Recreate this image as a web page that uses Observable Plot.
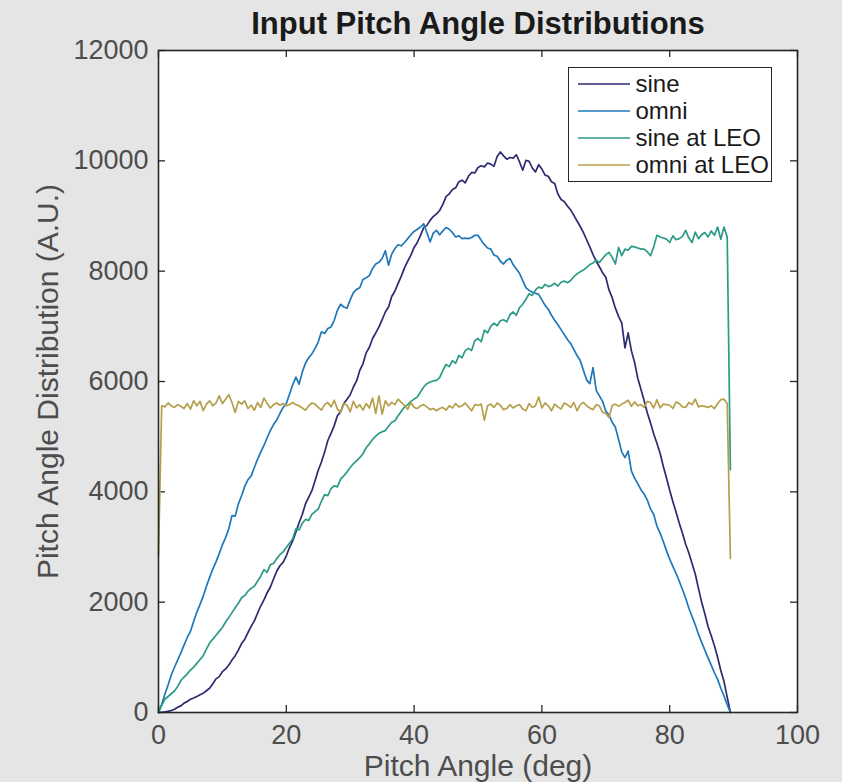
<!DOCTYPE html>
<html>
<head>
<meta charset="utf-8">
<script src="https://cdn.jsdelivr.net/npm/d3@7"></script>
<script src="https://cdn.jsdelivr.net/npm/@observablehq/plot@0.6"></script>
<style>
  html, body { margin: 0; padding: 0; background: #e5e5e5; }
  #chart { position: relative; width: 842px; height: 782px; font-family: "Liberation Sans", Arial, Helvetica, sans-serif; }
  .legend { position: absolute; left: 568px; top: 67px; width: 204px; height: 115px; box-sizing: border-box;
            border: 1.5px solid #262626; background: #fff; padding-top: 2px; font-size: 24px; color: #1a1a1a; }
  .legend .row { display: flex; align-items: center; height: 27px; }
  .legend svg { margin-left: 8.5px; margin-right: 6px; }
</style>
</head>
<body>
<div id="chart"></div>
<script>
// Pitch angle grid: half-degree bins from 0 to 89.5 deg
const angleStep = 0.5;

const seriesNames = ["sine", "omni", "sine at LEO", "omni at LEO"];
const seriesColors = ["#2d2a70", "#1f78b9", "#2a9b86", "#b49f4b"];

const sine = [
  0, 5, 10, 22, 35, 60, 95, 120, 170, 200,
  240, 262, 290, 320, 350, 395, 440, 520, 610, 650,
  740, 790, 860, 950, 1030, 1130, 1250, 1330, 1450, 1560,
  1660, 1800, 1930, 2040, 2170, 2270, 2420, 2560, 2660, 2720,
  2840, 2990, 3110, 3270, 3440, 3590, 3780, 3900, 4020, 4200,
  4390, 4540, 4720, 4930, 5060, 5200, 5380, 5450, 5600, 5680,
  5760, 5900, 6010, 6200, 6320, 6520, 6620, 6780, 6880, 6990,
  7120, 7260, 7350, 7540, 7640, 7780, 7910, 8060, 8180, 8290,
  8430, 8520, 8650, 8790, 8830, 8920, 8990, 9040, 9100, 9210,
  9350, 9400, 9480, 9510, 9620, 9650, 9600, 9720, 9790, 9780,
  9880, 9910, 9890, 9960, 9940, 9900, 10080, 10160, 10090, 10030,
  10060, 10050, 10110, 9980, 9830, 10010, 9990, 9870, 9800, 9930,
  9850, 9740, 9720, 9620, 9590, 9400, 9300, 9260, 9180, 9110,
  9010, 8910, 8810, 8700, 8570, 8440, 8300, 8180, 8080, 7970,
  7890, 7660, 7520, 7330, 7180, 7060, 6610, 6880, 6560, 6350,
  6060, 5860, 5650, 5430, 5250, 5050, 4880, 4700, 4460, 4250,
  4030, 3820, 3630, 3430, 3250, 3050, 2890, 2700, 2510, 2250,
  2000, 1790, 1560, 1390, 1210, 1000, 760, 560, 280, 0
];

const omni = [
  0, 150, 330, 500, 680, 820, 950, 1080, 1220, 1360,
  1470, 1650, 1820, 1960, 2110, 2290, 2450, 2600, 2730, 2880,
  3040, 3170, 3330, 3570, 3560, 3780, 3930, 4100, 4220, 4290,
  4440, 4590, 4720, 4840, 4980, 5110, 5220, 5300, 5420, 5530,
  5600, 5770, 5940, 6080, 5950, 6170, 6330, 6430, 6500, 6600,
  6720, 6900, 6870, 6960, 6990, 7110, 7290, 7400, 7350, 7330,
  7480, 7610, 7670, 7700, 7850, 7880, 7920, 8050, 8130, 8160,
  8230, 8370, 8110, 8310, 8410, 8480, 8460, 8520, 8590, 8660,
  8720, 8760, 8800, 8860, 8700, 8530, 8690, 8740, 8660, 8730,
  8790, 8760, 8700, 8620, 8640, 8590, 8600, 8590, 8610, 8650,
  8650, 8560, 8480, 8420, 8400, 8290, 8270, 8180, 8130, 8200,
  8230, 8120, 8040, 7960, 7830, 7700, 7650, 7620, 7600, 7580,
  7480, 7380, 7310, 7200, 7110, 7030, 6940, 6850, 6760, 6690,
  6580, 6470, 6380, 6200, 6030, 5960, 6250, 5840, 5740, 5640,
  5460, 5390, 5260, 5170, 4950, 4720, 4620, 4740, 4380, 4250,
  4150, 4040, 3960, 3850, 3690, 3590, 3380, 3250, 3100, 2930,
  2780, 2650, 2520, 2380, 2230, 2070, 1890, 1740, 1590, 1420,
  1270, 1130, 990, 860, 720, 600, 440, 300, 140, 0
];

const sineLEO = [
  0, 130, 240, 290, 340, 390, 470, 580, 640, 700,
  770, 820, 890, 960, 1030, 1150, 1260, 1330, 1400, 1470,
  1540, 1640, 1720, 1810, 1900, 1980, 2080, 2120, 2200, 2250,
  2290, 2380, 2470, 2590, 2540, 2680, 2700, 2790, 2860, 2910,
  2990, 3070, 3150, 3330, 3310, 3430, 3500, 3480, 3590, 3640,
  3690, 3830, 3950, 3930, 4060, 4110, 4090, 4230, 4290, 4360,
  4440, 4510, 4560, 4620, 4690, 4800, 4870, 4950, 5010, 5060,
  5090, 5110, 5190, 5260, 5290, 5380, 5460, 5540, 5580, 5640,
  5680, 5720, 5810, 5900, 5960, 5990, 6010, 6020, 6070, 6200,
  6310, 6270, 6380, 6330, 6470, 6430, 6560, 6600, 6560, 6740,
  6780, 6720, 6930, 6880, 7000, 7060, 7010, 7100, 7120, 7080,
  7210, 7260, 7200, 7340, 7400, 7490, 7590, 7560, 7660, 7710,
  7690, 7760, 7720, 7740, 7780, 7730, 7800, 7820, 7790, 7830,
  7900, 7950, 7990, 8020, 8070, 8120, 8150, 8200, 8160, 8230,
  8300, 8340, 8250, 8130, 8430, 8280, 8400, 8380, 8450, 8440,
  8420, 8400, 8400, 8350, 8280, 8440, 8650, 8620, 8600, 8580,
  8520, 8640, 8570, 8590, 8630, 8740, 8600, 8520, 8710, 8590,
  8660, 8700, 8620, 8730, 8650, 8800, 8580, 8800, 8620, 4400
];

const omniLEO = [
  2850, 5560, 5540, 5610, 5560, 5530, 5580, 5550, 5510, 5600,
  5500, 5650, 5560, 5640, 5470, 5590, 5650, 5560, 5610, 5740,
  5600, 5680, 5760, 5620, 5440, 5640, 5590, 5650, 5510, 5570,
  5480, 5620, 5530, 5700, 5600, 5520, 5580, 5610, 5570, 5600,
  5560, 5580, 5620, 5580, 5560, 5520, 5480, 5560, 5610, 5590,
  5530, 5480, 5580, 5620, 5540, 5660, 5500, 5440, 5600, 5570,
  5450, 5640, 5520, 5580, 5480, 5600, 5520, 5700, 5420, 5740,
  5410, 5650, 5560, 5620, 5580, 5680, 5620, 5560, 5500, 5620,
  5530, 5510, 5560, 5580, 5540, 5490, 5510, 5470, 5510, 5530,
  5480, 5560, 5520, 5600, 5540, 5560, 5610, 5540, 5470, 5580,
  5570, 5590, 5300, 5560, 5590, 5530, 5610, 5570, 5490, 5510,
  5580, 5520, 5560, 5580, 5500, 5470, 5600, 5530, 5560, 5720,
  5520, 5610, 5560, 5470, 5590, 5540, 5500, 5610, 5580, 5530,
  5620, 5470, 5580, 5620, 5560, 5520, 5490, 5580, 5560, 5440,
  5420, 5350, 5560, 5590, 5550, 5590, 5620, 5660, 5550, 5630,
  5560, 5580, 5530, 5640, 5620, 5520, 5670, 5520, 5590, 5580,
  5570, 5510, 5630, 5600, 5540, 5530, 5620, 5580, 5680, 5540,
  5560, 5550, 5530, 5560, 5510, 5600, 5670, 5680, 5600, 2790
];

const xTicks = [0, 20, 40, 60, 80, 100];
const yTicks = [0, 2000, 4000, 6000, 8000, 10000, 12000];

const seriesValues = [sine, omni, sineLEO, omniLEO];
const rows = seriesNames.flatMap((name, s) =>
  seriesValues[s].map((v, i) => ({angle: i * angleStep, value: v, name}))
);

const W = 842, H = 782;
const mL = 158, mR = 45, mT = 50, mB = 70;
const innerW = W - mL - mR, innerH = H - mT - mB;
const axisInk = "#262626";
const labelInk = "#4d4d4d";
const font = '"Liberation Sans", Arial, Helvetica, sans-serif';

const chart = Plot.plot({
  width: W, height: H,
  marginLeft: mL, marginRight: mR, marginTop: mT, marginBottom: mB,
  style: {background: "#e5e5e5", fontFamily: font, overflow: "visible"},
  x: {domain: [0, 100]},
  y: {domain: [0, 12000]},
  color: {domain: seriesNames, range: seriesColors},
  marks: [
    Plot.frame({fill: "white"}),
    // tick labels
    Plot.axisX(xTicks, {tickSize: 0, tickPadding: 12, fontSize: 27, fill: labelInk, label: null, tickFormat: d => String(d)}),
    Plot.axisY(yTicks, {tickSize: 0, tickPadding: 10, fontSize: 27, fill: labelInk, label: null, tickFormat: d => String(d)}),
    // inward ticks on all four sides
    Plot.tickX(xTicks, {x: d => d, insetTop: innerH - 7, stroke: axisInk, strokeWidth: 1.3}),
    Plot.tickX(xTicks, {x: d => d, insetBottom: innerH - 7, stroke: axisInk, strokeWidth: 1.3}),
    Plot.tickY(yTicks, {y: d => d, insetRight: innerW - 7, stroke: axisInk, strokeWidth: 1.3}),
    Plot.tickY(yTicks, {y: d => d, insetLeft: innerW - 7, stroke: axisInk, strokeWidth: 1.3}),
    // distributions
    Plot.line(rows, {x: "angle", y: "value", z: "name", stroke: "name", strokeWidth: 1.7}),
    Plot.frame({stroke: axisInk, strokeWidth: 1.6}),
    // titles
    Plot.text(["Input Pitch Angle Distributions"], {text: d => d, frameAnchor: "top", dy: -26, lineAnchor: "middle",
      fontSize: 31, fontWeight: "bold", fill: "#1a1a1a"}),
    Plot.text(["Pitch Angle (deg)"], {text: d => d, frameAnchor: "bottom", dy: 54, lineAnchor: "middle",
      fontSize: 30, fill: labelInk}),
    Plot.text(["Pitch Angle Distribution (A.U.)"], {text: d => d, frameAnchor: "left", dx: -110, rotate: -90,
      textAnchor: "middle", lineAnchor: "middle", fontSize: 30, fill: labelInk})
  ]
});

const root = document.getElementById("chart");
root.appendChild(chart);

// legend box
const legend = document.createElement("div");
legend.className = "legend";
seriesNames.forEach((name, i) => {
  const row = document.createElement("div");
  row.className = "row";
  row.innerHTML = `<svg width="52" height="6"><line x1="0" x2="52" y1="3" y2="3" stroke="${seriesColors[i]}" stroke-width="1.7"/></svg><span>${name}</span>`;
  legend.appendChild(row);
});
root.appendChild(legend);
</script>
</body>
</html>
